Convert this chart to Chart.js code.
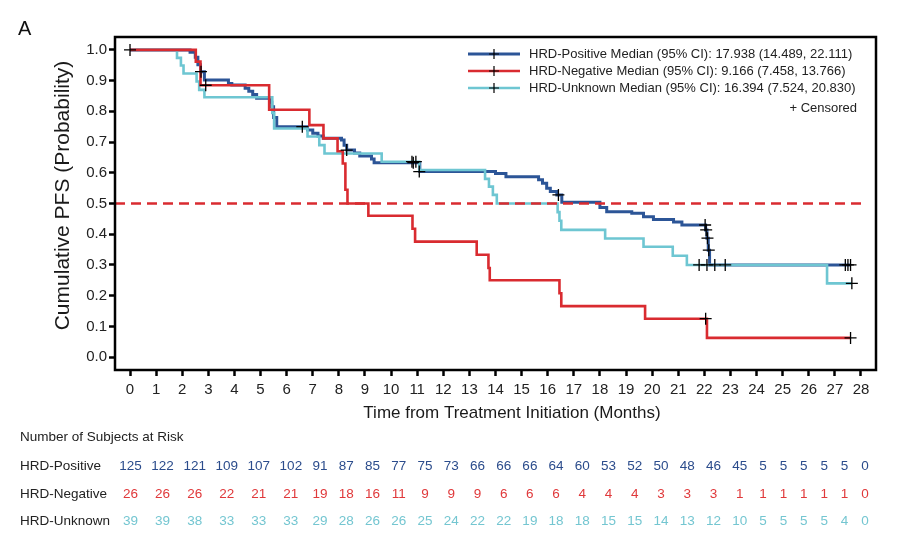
<!DOCTYPE html>
<html>
<head>
<meta charset="utf-8">
<script src="https://cdn.jsdelivr.net/npm/chart.js@4/dist/chart.umd.min.js"></script>
<style>
  html, body { margin: 0; padding: 0; background: #fff; }
  canvas { display: block; }
</style>
</head>
<body>
<canvas id="c" width="915" height="549"></canvas>
<script>
// ---------------- DATA ----------------
const xTicks = [0,1,2,3,4,5,6,7,8,9,10,11,12,13,14,15,16,17,18,19,20,21,22,23,24,25,26,27,28];
const yTicks = [0,0.1,0.2,0.3,0.4,0.5,0.6,0.7,0.8,0.9,1.0];
const medianLevel = 0.5;

// HRD-Positive Kaplan-Meier curve
const posTime = [0, 2.3, 2.5, 2.6, 2.7, 2.85, 3.77, 3.9, 4.41, 4.55, 4.7, 4.85, 5.36, 5.43, 5.5, 5.62, 6.8, 7.0, 7.2, 7.4, 8.1, 8.2, 8.3, 8.6, 8.8, 9.25, 9.35, 11.1, 14.0, 14.4, 15.65, 15.8, 15.96, 16.1, 16.35, 16.54, 18.0, 18.26, 19.22, 19.67, 20.05, 20.82, 21.14, 22.05, 22.1, 22.15, 22.2, 27.6];
const posSurv = [1, 0.992, 0.976, 0.952, 0.929, 0.902, 0.891, 0.886, 0.875, 0.865, 0.855, 0.843, 0.83, 0.815, 0.78, 0.75, 0.739, 0.729, 0.72, 0.712, 0.707, 0.69, 0.674, 0.664, 0.655, 0.645, 0.633, 0.604, 0.598, 0.587, 0.577, 0.566, 0.55, 0.539, 0.528, 0.504, 0.487, 0.473, 0.468, 0.457, 0.448, 0.44, 0.43, 0.414, 0.387, 0.348, 0.30, 0.30];
const posCensTime = [2.72, 6.6, 8.3, 10.85, 11.08, 16.41, 22.03, 22.07, 22.12, 22.17, 27.4, 27.5, 27.6];
const posCensSurv = [0.929, 0.75, 0.674, 0.633, 0.604, 0.528, 0.43, 0.414, 0.387, 0.348, 0.30, 0.30, 0.30];

// HRD-Negative
const negTime = [0, 2.52, 2.7, 5.33, 6.87, 7.41, 7.95, 8.15, 8.25, 8.33, 9.13, 10.82, 10.92, 13.28, 13.73, 13.78, 16.45, 16.52, 19.73, 22.1, 27.6];
const negSurv = [1, 0.962, 0.885, 0.805, 0.755, 0.712, 0.67, 0.63, 0.545, 0.50, 0.46, 0.418, 0.376, 0.333, 0.29, 0.25, 0.208, 0.166, 0.125, 0.0625, 0.0625];
const negCensTime = [2.9, 22.05, 27.6];
const negCensSurv = [0.885, 0.125, 0.0625];

// HRD-Unknown
const unkTime = [0, 1.8, 1.95, 2.05, 2.55, 2.65, 2.85, 5.45, 5.52, 6.8, 7.25, 7.45, 9.64, 11.08, 13.6, 13.75, 13.9, 14.05, 16.38, 16.45, 16.52, 18.2, 19.67, 20.79, 21.33, 26.7, 27.65];
const unkSurv = [1, 0.974, 0.949, 0.923, 0.897, 0.87, 0.846, 0.795, 0.744, 0.718, 0.69, 0.663, 0.636, 0.609, 0.58, 0.555, 0.528, 0.50, 0.472, 0.444, 0.414, 0.386, 0.359, 0.33, 0.30, 0.24, 0.24];
const unkCensTime = [0, 10.8, 10.95, 21.8, 22.1, 22.4, 22.8, 27.65];
const unkCensSurv = [1.0, 0.636, 0.636, 0.30, 0.30, 0.30, 0.30, 0.24];

// Number at risk
const riskTimes = xTicks;
const posRisk = [125,122,121,109,107,102,91,87,85,77,75,73,66,66,66,64,60,53,52,50,48,46,45,5,5,5,5,5,0];
const negRisk = [26,26,26,22,21,21,19,18,16,11,9,9,9,6,6,6,4,4,4,3,3,3,1,1,1,1,1,1,0];
const unkRisk = [39,39,38,33,33,33,29,28,26,26,25,24,22,22,19,18,18,15,15,14,13,12,10,5,5,5,5,4,0];

const seriesNames = ['HRD-Positive', 'HRD-Negative', 'HRD-Unknown'];
const legendTexts = [
  'HRD-Positive Median (95% CI): 17.938 (14.489, 22.111)',
  'HRD-Negative Median (95% CI): 9.166 (7.458, 13.766)',
  'HRD-Unknown Median (95% CI): 16.394 (7.524, 20.830)'
];

// ---------------- STYLE ----------------
const FONT = '"Liberation Sans", Arial, Helvetica, sans-serif';
const C_POS = '#2c5597', C_NEG = '#d92b30', C_UNK = '#6ec6d2';
const T_POS = '#2b4c8c', T_NEG = '#e0393b', T_UNK = '#74c6d1';
const xMin = -0.575, xMax = 28.575, yMin = -0.042, yMax = 1.042;

const pts = (xs, ys) => xs.map((x, i) => ({x: x, y: ys[i]}));

const censorDs = (xs, ys) => ({
  type: 'scatter', data: pts(xs, ys), showLine: false,
  pointStyle: 'cross', pointRadius: 6, pointBorderWidth: 1.3,
  borderColor: '#000', backgroundColor: '#000', pointHoverRadius: 6
});
const curveDs = (xs, ys, color, w) => ({
  data: pts(xs, ys), borderColor: color, borderWidth: w, stepped: 'before',
  pointRadius: 0, fill: false, tension: 0
});

const boxPlugin = {
  id: 'box',
  afterDatasetsDraw(chart) {
    const ctx = chart.ctx, a = chart.chartArea;
    ctx.save();
    ctx.strokeStyle = '#000'; ctx.lineWidth = 2.5;
    ctx.strokeRect(a.left, a.top, a.right - a.left, a.bottom - a.top);
    ctx.restore();
  }
};

const annotPlugin = {
  id: 'annot',
  afterDraw(chart) {
    const ctx = chart.ctx, a = chart.chartArea, xs = chart.scales.x;
    ctx.save();
    // Panel letter
    ctx.fillStyle = '#111';
    ctx.font = '20px ' + FONT;
    ctx.textAlign = 'left'; ctx.textBaseline = 'alphabetic';
    ctx.fillText('A', 18, 35);

    // Axis titles
    ctx.fillStyle = '#1a1a1a';
    ctx.font = '17px ' + FONT;
    ctx.textAlign = 'center'; ctx.textBaseline = 'middle';
    ctx.fillText('Time from Treatment Initiation (Months)', 512, 413);
    ctx.save();
    ctx.translate(63, (a.top + a.bottom) / 2 - 8);
    ctx.rotate(-Math.PI / 2);
    ctx.font = '21px ' + FONT;
    ctx.fillText('Cumulative PFS (Probability)', 0, 0);
    ctx.restore();

    // Legend
    const lc = [C_POS, C_NEG, C_UNK], lw = [3, 2.5, 2.5];
    ctx.font = '13px ' + FONT;
    ctx.textAlign = 'left'; ctx.textBaseline = 'middle';
    for (let i = 0; i < 3; i++) {
      const y = 54 + i * 17;
      ctx.strokeStyle = lc[i]; ctx.lineWidth = lw[i];
      ctx.beginPath(); ctx.moveTo(468, y); ctx.lineTo(520, y); ctx.stroke();
      ctx.strokeStyle = '#000'; ctx.lineWidth = 1.2;
      ctx.beginPath(); ctx.moveTo(494, y - 5); ctx.lineTo(494, y + 5);
      ctx.moveTo(489, y); ctx.lineTo(499, y); ctx.stroke();
      ctx.fillStyle = '#222';
      ctx.fillText(legendTexts[i], 529, y + 0.5);
    }
    ctx.textAlign = 'right';
    ctx.fillText('+ Censored', 857, 108);

    // Number at risk table
    const tf = '13.5px ' + FONT;
    ctx.font = tf;
    ctx.fillStyle = '#222';
    ctx.textAlign = 'left'; ctx.textBaseline = 'middle';
    ctx.fillText('Number of Subjects at Risk', 20, 437);
    const rows = [posRisk, negRisk, unkRisk];
    const rowCol = [T_POS, T_NEG, T_UNK];
    const rowY = [466.5, 494, 521.5];
    for (let r = 0; r < 3; r++) {
      ctx.fillStyle = '#222';
      ctx.fillText(seriesNames[r], 20, rowY[r]);
    }
    const n = riskTimes.length;
    const colW = [];
    for (let i = 0; i < n; i++) {
      let m = 0;
      for (let r = 0; r < 3; r++) m = Math.max(m, ctx.measureText(String(rows[r][i])).width);
      colW.push(m);
    }
    const gaps = []; let total = 0;
    for (let i = 0; i < n - 1; i++) {
      const g = (colW[i] + colW[i + 1]) / 2 + 18.7;
      gaps.push(g); total += g;
    }
    const x0 = xs.getPixelForValue(riskTimes[0]) + 0.5;
    const x1 = xs.getPixelForValue(riskTimes[n - 1]) + 4;
    const k = (x1 - x0) / total;
    let cx = x0;
    ctx.textAlign = 'center';
    for (let i = 0; i < n; i++) {
      for (let r = 0; r < 3; r++) {
        ctx.fillStyle = rowCol[r];
        ctx.fillText(String(rows[r][i]), cx, rowY[r]);
      }
      if (i < n - 1) cx += gaps[i] * k;
    }
    ctx.restore();
  }
};

new Chart(document.getElementById('c'), {
  type: 'line',
  data: {
    datasets: [
      censorDs(posCensTime, posCensSurv),
      censorDs(negCensTime, negCensSurv),
      censorDs(unkCensTime, unkCensSurv),
      {
        data: [{x: xMin, y: medianLevel}, {x: xTicks[xTicks.length - 1], y: medianLevel}],
        borderColor: C_NEG, borderWidth: 2.5, borderDash: [10, 6], pointRadius: 0, fill: false
      },
      curveDs(negTime, negSurv, C_NEG, 2.6),
      curveDs(unkTime, unkSurv, C_UNK, 2.6),
      curveDs(posTime, posSurv, C_POS, 3)
    ]
  },
  options: {
    responsive: false,
    animation: false,
    devicePixelRatio: 1,
    layout: { padding: { top: 37, right: 39, left: 0, bottom: 0 } },
    plugins: { legend: { display: false }, tooltip: { enabled: false } },
    scales: {
      x: {
        type: 'linear', min: xMin, max: xMax,
        afterBuildTicks: s => { s.ticks = xTicks.map(v => ({value: v})); },
        afterFit: s => { s.height = 179; },
        border: { display: false },
        grid: { drawOnChartArea: false, drawTicks: true, tickLength: 6, tickWidth: 2.5, tickColor: '#000' },
        ticks: { font: { family: FONT, size: 15 }, color: '#222', padding: 5, maxRotation: 0, autoSkip: false,
                 callback: v => String(v) }
      },
      y: {
        type: 'linear', min: yMin, max: yMax,
        afterBuildTicks: s => { s.ticks = yTicks.map(v => ({value: v})); },
        afterFit: s => { s.width = 115; },
        border: { display: false },
        grid: { drawOnChartArea: false, drawTicks: true, tickLength: 6, tickWidth: 2.5, tickColor: '#000' },
        ticks: { font: { family: FONT, size: 15 }, color: '#222', padding: 2, autoSkip: false,
                 callback: v => Number(v).toFixed(1) }
      }
    }
  },
  plugins: [boxPlugin, annotPlugin]
});
</script>
</body>
</html>
